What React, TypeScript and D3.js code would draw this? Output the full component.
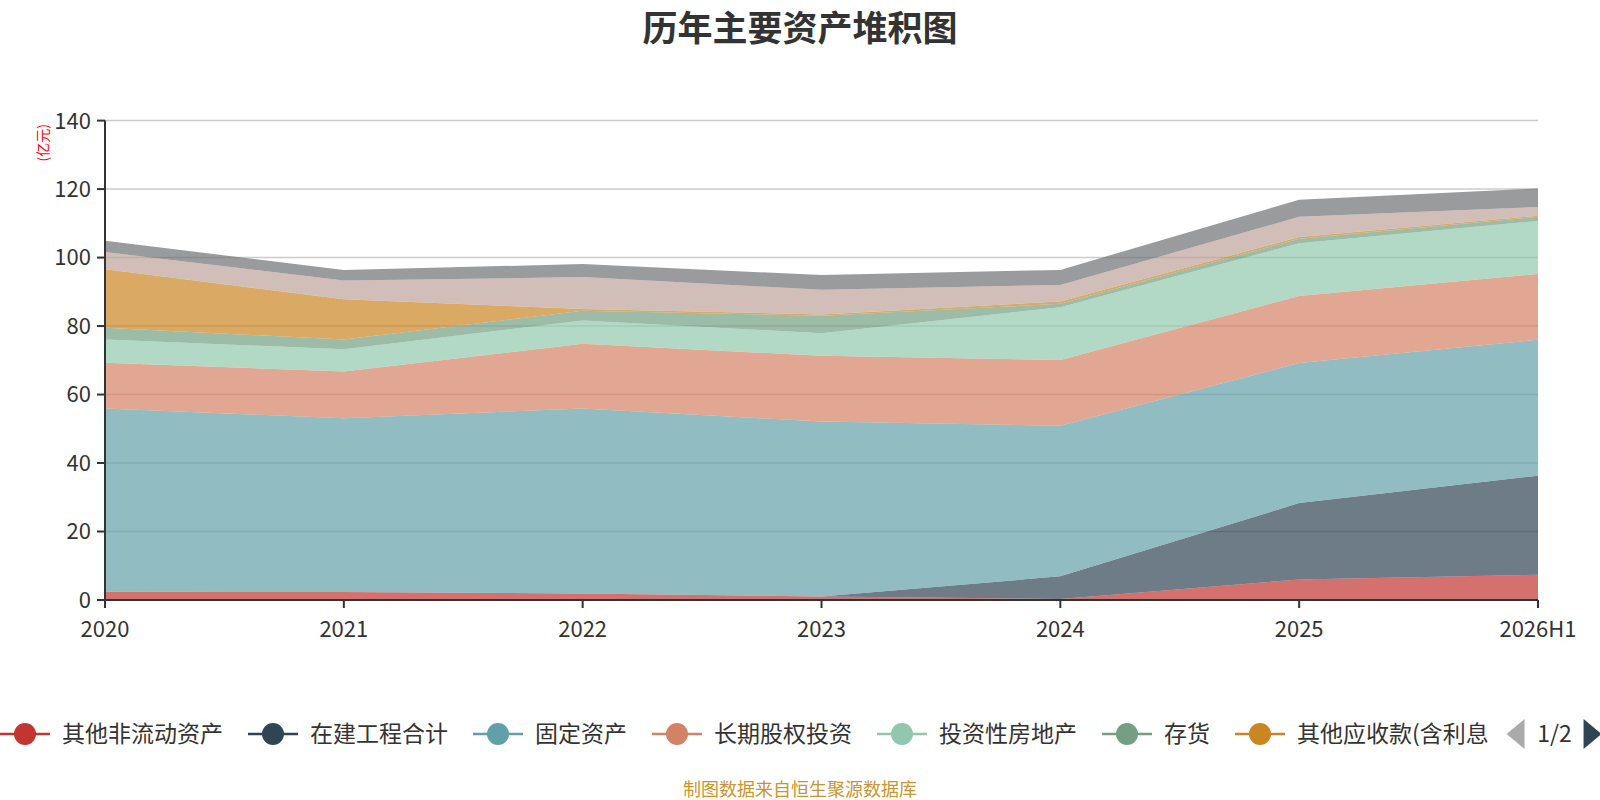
import React from "react";
import * as d3 from "d3";

// 历年主要资产 (亿元)
const categories = ["2020", "2021", "2022", "2023", "2024", "2025", "2026H1"];

const otherNonCurrent = [2.4, 2.3, 1.9, 1.0, 0.3, 6.0, 7.4];
const construction = [0, 0, 0, 0, 6.6, 22.3, 28.9];
const fixedAssets = [53.5, 50.8, 54.0, 51.1, 44.0, 40.9, 39.7];
const longTermEquity = [13.4, 13.6, 18.9, 19.2, 19.2, 19.6, 19.2];
const investProperty = [6.8, 6.5, 6.8, 6.6, 15.4, 15.4, 15.5];
const inventory = [3.4, 2.9, 2.9, 5.1, 1.0, 1.3, 1.2];
const otherReceivables = [17.1, 11.7, 0.5, 0.4, 0.7, 0.5, 0.3];
const receivables = [5.0, 5.5, 9.3, 7.2, 4.8, 5.9, 2.6];
const cash = [3.3, 3.1, 3.8, 4.3, 4.4, 5.0, 5.4];

const seriesNames = [
  "其他非流动资产",
  "在建工程合计",
  "固定资产",
  "长期股权投资",
  "投资性房地产",
  "存货",
  "其他应收款(含利息和股利)",
  "应收账款",
  "货币资金",
];
const seriesValues = [
  otherNonCurrent,
  construction,
  fixedAssets,
  longTermEquity,
  investProperty,
  inventory,
  otherReceivables,
  receivables,
  cash,
];
const palette = [
  "#c23531",
  "#2f4554",
  "#61a0a8",
  "#d48265",
  "#91c7ae",
  "#749f83",
  "#ca8622",
  "#bda29a",
  "#6e7074",
];
const yTicks = [0, 20, 40, 60, 80, 100, 120, 140];
const legendPageSize = 7;

const FONT = '"Noto Sans CJK SC", "Noto Sans", sans-serif';

// rough text width for the legend layout
function textWidth(s: string, fs: number) {
  let w = 0;
  for (const ch of s) {
    if (/[\u4e00-\u9fff]/.test(ch)) w += fs;
    else if (ch === "(" || ch === ")") w += fs * 0.33;
    else w += fs * 0.56;
  }
  return w;
}

export default function App() {
  const width = 1600;
  const height = 800;
  const margin = { left: 105, right: 62, top: 120.6, bottom: 200 };

  const x = d3
    .scalePoint<string>()
    .domain(categories)
    .range([margin.left, width - margin.right]);
  const y = d3
    .scaleLinear()
    .domain([0, 140])
    .range([height - margin.bottom, margin.top]);

  const rows = categories.map((c, i) => {
    const r: Record<string, number | string> = { cat: c };
    seriesNames.forEach((n, k) => (r[n] = seriesValues[k][i]));
    return r;
  });
  const stacked = d3.stack<any>().keys(seriesNames)(rows);

  const area = d3
    .area<any>()
    .x((d) => x(d.data.cat) as number)
    .y0((d) => y(d[0]))
    .y1((d) => y(d[1]));

  const x0 = margin.left;
  const x1 = width - margin.right;
  const yBase = y(0);

  // legend layout (page 1)
  const legendFs = 23;
  const legendY = 734;
  let cursor = 0;
  const legendItems = seriesNames.slice(0, legendPageSize).map((name, i) => {
    const label = name.length > 9 ? name.slice(0, 9) : name;
    const item = { x: cursor, label, color: palette[i] };
    cursor += 62 + textWidth(label, legendFs) + 25;
    return item;
  });
  const pagerX = cursor - 25 + 18;

  return (
    <svg
      width={width}
      height={height}
      style={{ position: "absolute", left: 0, top: 0, background: "#fff" }}
      fontFamily={FONT}
    >
      <text
        x={800}
        y={41}
        textAnchor="middle"
        fontSize={35}
        fontWeight="bold"
        fill="#333"
      >
        历年主要资产堆积图
      </text>

      {/* grid */}
      {yTicks.slice(1).map((t) => (
        <line
          key={"g" + t}
          x1={x0}
          x2={x1}
          y1={y(t)}
          y2={y(t)}
          stroke="#cccccc"
          strokeWidth={1.5}
        />
      ))}

      {/* stacked areas */}
      {stacked.map((s, i) => (
        <path key={s.key} d={area(s) || ""} fill={palette[i]} fillOpacity={0.7} />
      ))}

      {/* y axis */}
      <line x1={x0} x2={x0} y1={margin.top} y2={yBase} stroke="#333" strokeWidth={2} />
      {yTicks.map((t) => (
        <g key={"y" + t}>
          <line x1={x0 - 8} x2={x0} y1={y(t)} y2={y(t)} stroke="#333" strokeWidth={2} />
          <text
            x={x0 - 14}
            y={y(t)}
            dy="0.36em"
            textAnchor="end"
            fontSize={22}
            fill="#333"
          >
            {t}
          </text>
        </g>
      ))}
      <text
        transform={`translate(43,${y(133.5)}) rotate(-90)`}
        textAnchor="middle"
        dy="0.35em"
        fontSize={14}
        fill="#ff0000"
      >
        (亿元)
      </text>

      {/* x axis */}
      <line x1={x0} x2={x1} y1={yBase} y2={yBase} stroke="#333" strokeWidth={2} />
      {categories.map((c) => (
        <g key={"x" + c}>
          <line
            x1={x(c)}
            x2={x(c)}
            y1={yBase}
            y2={yBase + 8}
            stroke="#333"
            strokeWidth={2}
          />
          <text
            x={x(c)}
            y={yBase + 29}
            dy="0.36em"
            textAnchor="middle"
            fontSize={22}
            fill="#333"
          >
            {c}
          </text>
        </g>
      ))}

      {/* legend */}
      {legendItems.map((it) => (
        <g key={it.label} transform={`translate(${it.x},${legendY})`}>
          <line x1={0} x2={50} y1={0} y2={0} stroke={it.color} strokeWidth={2.5} />
          <circle cx={25} cy={0} r={11} fill={it.color} />
          <text x={62} y={0} dy="0.35em" fontSize={legendFs} fill="#333">
            {it.label}
          </text>
        </g>
      ))}
      <g transform={`translate(${pagerX},${legendY})`}>
        <path d="M18,-15 L0,0 L18,15 Z" fill="#aaaaaa" />
        <text x={48} y={0} dy="0.35em" textAnchor="middle" fontSize={23} fill="#333">
          1/2
        </text>
        <path d="M77,-15 L95,0 L77,15 Z" fill="#2f4554" />
      </g>

      <text x={800} y={790} dy="0.35em" textAnchor="middle" fontSize={18} fill="#c9952f">
        制图数据来自恒生聚源数据库
      </text>
    </svg>
  );
}
